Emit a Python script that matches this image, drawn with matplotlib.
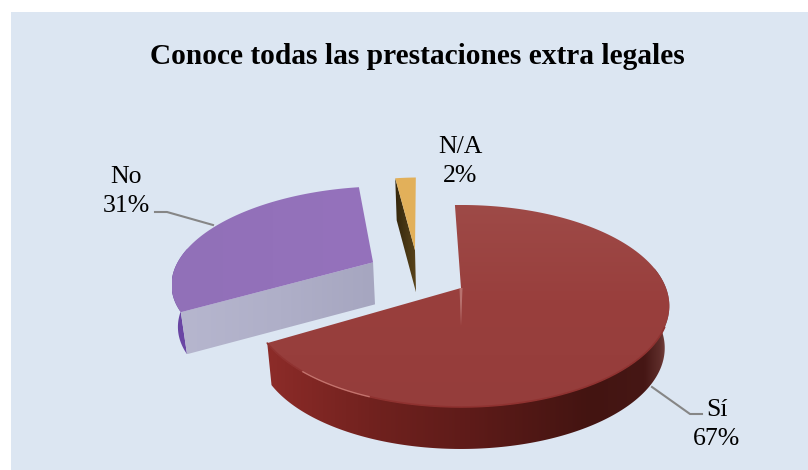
import numpy as np
import matplotlib
matplotlib.use("Agg")
import matplotlib.pyplot as plt
from matplotlib.colors import to_rgb
from matplotlib.patches import PathPatch, Polygon, Rectangle
from matplotlib.path import Path

TITLE = "Conoce todas las prestaciones extra legales"
categories = ["Sí", "No", "N/A"]
shares = [67, 31, 2]

# Pie layout, in figure pixels
START_DEG = -2.0
CX, CY = 461.0, 288.0
RX, RY = 205.0, 97.8
PERSPECTIVE = 0.178
DEPTH = 42.0
BASE_SHRINK = 0.978
# Slice displacement in the plane of the disc, in radii
OFFSETS = {"Sí": (0.0, 0.0), "No": (-0.45, -0.275), "N/A": (-0.241, -0.415)}
TOP_COLORS = {"Sí": ("#9a4644", "#953e3c"), "No": ("#9170b8", "#9572bc"), "N/A": ("#e2b05a", "#dcaa54")}

plt.rcParams["font.family"] = ["Liberation Serif", "DejaVu Serif"]
fig = plt.figure(figsize=(8.08, 4.70), dpi=100, facecolor="white")
ax = fig.add_axes([0, 0, 1, 1])
ax.set_xlim(0, 808)
ax.set_ylim(470, 0)
ax.axis("off")
ax.add_patch(Rectangle((11, 12), 797, 458, facecolor="#dce6f2", edgecolor="none", zorder=0))


def project(u, v, lower=False):
    """Map disc coordinates (u right, v toward the viewer) to pixels."""
    u, v = np.asarray(u, float), np.asarray(v, float)
    w = 1 - PERSPECTIVE * v
    x = CX + RX * u / w
    y = CY + RY * v / w
    if lower:
        x = CX + (x - CX) * BASE_SHRINK
        y = y + DEPTH
    return np.column_stack([x, y])


def rim(offset, a0, a1, lower=False, n=160):
    t = np.radians(np.linspace(a0, a1, n))
    return project(offset[0] + np.sin(t), offset[1] - np.cos(t), lower)


def hub(offset, lower=False):
    return project([offset[0]], [offset[1]], lower)


def gradient_fill(points, stops, z, vertical=False):
    """Fill a polygon with a colour ramp given as (pixel position, colour) stops."""
    pts = np.asarray(points)
    x0, y0 = pts.min(axis=0)
    x1, y1 = pts.max(axis=0)
    lo, hi = (y0, y1) if vertical else (x0, x1)
    pos = np.array([s[0] for s in stops], float)
    cols = np.array([to_rgb(s[1]) for s in stops])
    axis = np.linspace(lo, hi, 256)
    ramp = np.stack([np.interp(axis, pos, cols[:, i]) for i in range(3)], axis=-1)
    img = ramp[:, None, :] if vertical else ramp[None, :, :]
    im = ax.imshow(img, extent=(x0, x1, y1, y0), aspect="auto", zorder=z, interpolation="bilinear")
    patch = PathPatch(Path(np.vstack([pts, pts[:1]]), closed=True), transform=ax.transData,
                      facecolor="none", edgecolor="none")
    ax.add_patch(patch)
    im.set_clip_path(patch)
    ax.set_xlim(0, 808)
    ax.set_ylim(470, 0)


# Angular span of every slice, clockwise from twelve o'clock
edges = START_DEG + np.cumsum([0] + shares) * 3.6
spans = {c: (edges[i], edges[i + 1]) for i, c in enumerate(categories)}

# No: outer wall, cut face and top
off = OFFSETS["No"]
a0, a1 = spans["No"]
wall = np.vstack([rim(off, a0, a0 + 40), rim(off, a0, a0 + 40, True)[::-1]])
gradient_fill(wall, [(170, "#4d3384"), (178, "#6a46a4"), (192, "#6a46a4")], 2)
cut = np.vstack([hub(off), rim(off, a0, a0, n=1), rim(off, a0, a0, True, n=1), hub(off, True)])
gradient_fill(cut, [(183, "#b6b6ce"), (280, "#afafc8"), (373, "#a6a6c0")], 3)
top = np.vstack([hub(off), rim(off, a0, a1)])
gradient_fill(top, [(172, TOP_COLORS["No"][0]), (373, TOP_COLORS["No"][1])], 4)

# N/A: dark radial face and top
off = OFFSETS["N/A"]
a0, a1 = spans["N/A"]
face = np.vstack([hub(off), rim(off, a0, a0, n=1), rim(off, a0, a0, True, n=1), hub(off, True)])
gradient_fill(face, [(395, "#33260c"), (415, "#57421a")], 3)
top = np.vstack([hub(off), rim(off, a0, a1, n=20)])
ax.add_patch(Polygon(top, closed=True, facecolor=TOP_COLORS["N/A"][0], edgecolor="none", zorder=4))

# Sí: outer wall, top, rim light and hub glint
off = OFFSETS["Sí"]
a0, a1 = spans["Sí"]
wall = np.vstack([rim(off, 78, a1), rim(off, 78, a1, True)[::-1]])
gradient_fill(wall, [(269, "#8c2c29"), (300, "#842825"), (380, "#6f211e"), (470, "#5e1b19"),
                     (590, "#431411"), (645, "#461715"), (660, "#5e2d2a"), (671, "#8a5654")], 5)
top = np.vstack([hub(off), rim(off, a0, a1)])
gradient_fill(top, [(205, "#9e4a47"), (300, "#993f3d"), (410, "#953d3b")], 6, vertical=True)
edge = rim(off, 112, a1)
ax.plot(edge[:, 0], edge[:, 1], color="#8f3230", lw=1.2, zorder=7, solid_capstyle="round")
light = rim(off, 202, 222, n=40)
ax.plot(light[:, 0], light[:, 1], color="#d98f88", lw=1.0, alpha=0.7, zorder=8)
h = hub(off)[0]
ax.add_patch(Polygon([h + (-1.5, 0), h + (1.5, 0), h + (0, 38)], closed=True,
                     facecolor="#c98e8b", edgecolor="none", alpha=0.65, zorder=8))

# Leader lines
ax.plot([155, 167, 213], [212, 212, 225], color="#868686", lw=1.5, zorder=1)
ax.plot([652, 690, 702], [387, 414, 414], color="#868686", lw=1.5, zorder=1)

# Labels
label_at = {"Sí": (717, 424.5), "No": (126, 191.5), "N/A": (460, 161.5)}
for cat, val in zip(categories, shares):
    x, y = label_at[cat]
    ax.text(x, y, f"{cat}\n{val}%", ha="center", va="center", fontsize=18.5, color="#000000",
            linespacing=1.47, zorder=9)

ax.text(417, 57, TITLE, ha="center", va="center", fontsize=21.2, fontweight="bold",
        color="#000000", zorder=9)

fig.savefig("out.png", dpi=100, facecolor="white")
